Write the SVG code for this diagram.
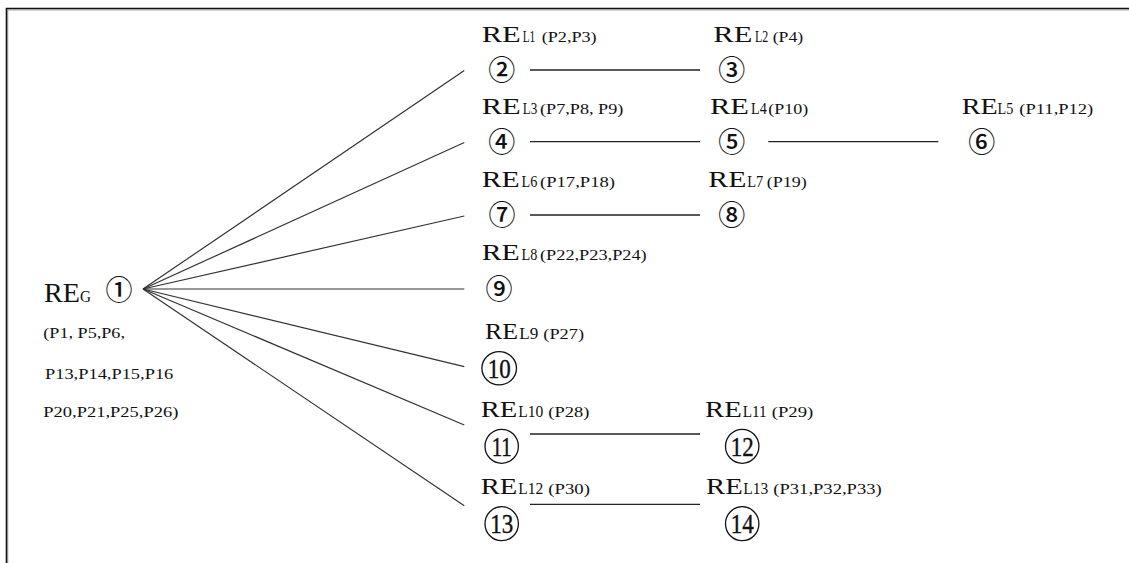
<svg xmlns="http://www.w3.org/2000/svg" width="1129" height="563" viewBox="0 0 1129 563">
  <style>
    .frame { fill: none; stroke: #111; stroke-width: 1.6; }
    .frame2 { fill: none; stroke: #aaa; stroke-width: 1; }
    .edge { fill: none; stroke: #333; stroke-width: 1.2; }
    .link { fill: none; stroke: #222; stroke-width: 1.3; }
    .lbl { font-family: "Liberation Serif", "Times New Roman", serif; fill: #111; }
    .re { font-size: 23px; }
    .sub { font-size: 16px; }
    .ps { font-size: 14px; }
    .reg { font-size: 27px; }
    .regs { font-size: 17px; }
    .plist { font-size: 15px; }
    .cd { font-family: "Noto Sans CJK SC", "Noto Sans CJK JP", sans-serif; font-size: 27px; font-weight: 500; fill: #111; text-anchor: middle; }
    .ring { fill: none; stroke: #111; stroke-width: 1.3; }
    .cnum { font-family: "Liberation Serif", "Times New Roman", serif; font-size: 27px; fill: #111; stroke: #111; stroke-width: 0.4; text-anchor: middle; }
  </style>

  <!-- page frame: top and left rules -->
  <path class="frame2" d="M7.8,563 V10 H1129"/>
  <path class="frame" d="M6.5,563 V8.5 H1129"/>

  <!-- connectors -->
  <g id="connectors">
    <line class="edge" x1="143" y1="289" x2="464.3" y2="70.5"/>
    <line class="edge" x1="143" y1="289" x2="464.3" y2="142.5"/>
    <line class="edge" x1="143" y1="289" x2="464.3" y2="216"/>
    <line class="edge" x1="143" y1="289" x2="464.3" y2="289"/>
    <line class="edge" x1="143" y1="289" x2="464.3" y2="366.7"/>
    <line class="edge" x1="143" y1="289" x2="464.3" y2="425"/>
    <line class="edge" x1="143" y1="289" x2="464.3" y2="505.7"/>
    <line class="link" x1="530" y1="70" x2="700" y2="70"/>
    <line class="link" x1="530" y1="141.7" x2="700" y2="141.7"/>
    <line class="link" x1="768.3" y1="141.7" x2="938.3" y2="141.7"/>
    <line class="link" x1="530" y1="215" x2="700" y2="215"/>
    <line class="link" x1="530" y1="434" x2="700" y2="434"/>
    <line class="link" x1="530" y1="504.3" x2="700" y2="504.3"/>
  </g>

  <!-- global entity -->
  <g id="n1">
    <text class="lbl" y="301.7"><tspan class="reg" x="44" textLength="36" lengthAdjust="spacingAndGlyphs">RE</tspan><tspan class="regs" x="80" textLength="11" lengthAdjust="spacingAndGlyphs">G</tspan></text>
    <text class="cd" x="119" y="299.5">①</text>
    <text class="lbl plist" x="43.3" y="338.3" textLength="81.7" lengthAdjust="spacingAndGlyphs">(P1, P5,P6,</text>
    <text class="lbl plist" x="45" y="379.3" textLength="128.3" lengthAdjust="spacingAndGlyphs">P13,P14,P15,P16</text>
    <text class="lbl plist" x="43.3" y="416.7" textLength="135" lengthAdjust="spacingAndGlyphs">P20,P21,P25,P26)</text>
  </g>

  <g id="n2">
    <text class="lbl" y="41.7"><tspan class="re" x="481.7" textLength="39" lengthAdjust="spacingAndGlyphs">RE</tspan><tspan class="sub" x="522.7" textLength="12.5" lengthAdjust="spacingAndGlyphs">L1</tspan><tspan class="ps" x="541.7" textLength="55" lengthAdjust="spacingAndGlyphs">(P2,P3)</tspan></text>
    <text class="cd" x="501.7" y="80">②</text>
  </g>

  <g id="n3">
    <text class="lbl" y="41.7"><tspan class="re" x="713.3" textLength="39" lengthAdjust="spacingAndGlyphs">RE</tspan><tspan class="sub" x="755" textLength="13.3" lengthAdjust="spacingAndGlyphs">L2</tspan><tspan class="ps" x="772.7" textLength="30.6" lengthAdjust="spacingAndGlyphs">(P4)</tspan></text>
    <text class="cd" x="731.7" y="80">③</text>
  </g>

  <g id="n4">
    <text class="lbl" y="114.3"><tspan class="re" x="481.7" textLength="39" lengthAdjust="spacingAndGlyphs">RE</tspan><tspan class="sub" x="522.7" textLength="14.6" lengthAdjust="spacingAndGlyphs">L3</tspan><tspan class="ps" x="540" textLength="83.3" lengthAdjust="spacingAndGlyphs">(P7,P8, P9)</tspan></text>
    <text class="cd" x="501.7" y="151.7">④</text>
  </g>

  <g id="n5">
    <text class="lbl" y="114.3"><tspan class="re" x="710" textLength="39" lengthAdjust="spacingAndGlyphs">RE</tspan><tspan class="sub" x="751" textLength="15.7" lengthAdjust="spacingAndGlyphs">L4</tspan><tspan class="ps" x="768.3" textLength="40" lengthAdjust="spacingAndGlyphs">(P10)</tspan></text>
    <text class="cd" x="731.7" y="151.7">⑤</text>
  </g>

  <g id="n6">
    <text class="lbl" y="114.3"><tspan class="re" x="961.7" textLength="36" lengthAdjust="spacingAndGlyphs">RE</tspan><tspan class="sub" x="997.5" textLength="15.8" lengthAdjust="spacingAndGlyphs">L5</tspan><tspan class="ps" x="1019.3" textLength="74" lengthAdjust="spacingAndGlyphs">(P11,P12)</tspan></text>
    <text class="cd" x="981.7" y="151.7">⑥</text>
  </g>

  <g id="n7">
    <text class="lbl" y="187.3"><tspan class="re" x="481.7" textLength="38" lengthAdjust="spacingAndGlyphs">RE</tspan><tspan class="sub" x="521.5" textLength="15.8" lengthAdjust="spacingAndGlyphs">L6</tspan><tspan class="ps" x="540" textLength="75" lengthAdjust="spacingAndGlyphs">(P17,P18)</tspan></text>
    <text class="cd" x="502" y="225">⑦</text>
  </g>

  <g id="n8">
    <text class="lbl" y="187.3"><tspan class="re" x="708.3" textLength="38" lengthAdjust="spacingAndGlyphs">RE</tspan><tspan class="sub" x="747.3" textLength="16" lengthAdjust="spacingAndGlyphs">L7</tspan><tspan class="ps" x="766.7" textLength="40" lengthAdjust="spacingAndGlyphs">(P19)</tspan></text>
    <text class="cd" x="731.7" y="225">⑧</text>
  </g>

  <g id="n9">
    <text class="lbl" y="260"><tspan class="re" x="481.7" textLength="38" lengthAdjust="spacingAndGlyphs">RE</tspan><tspan class="sub" x="521.5" textLength="15.8" lengthAdjust="spacingAndGlyphs">L8</tspan><tspan class="ps" x="540" textLength="106.7" lengthAdjust="spacingAndGlyphs">(P22,P23,P24)</tspan></text>
    <text class="cd" x="499" y="299">⑨</text>
  </g>

  <g id="n10">
    <text class="lbl" y="339.3"><tspan class="re" x="485" textLength="33" lengthAdjust="spacingAndGlyphs">RE</tspan><tspan class="sub" x="519.3" textLength="19" lengthAdjust="spacingAndGlyphs">L9</tspan><tspan class="ps" x="543.3" textLength="40.7" lengthAdjust="spacingAndGlyphs">(P27)</tspan></text>
    <ellipse class="ring" cx="499.2" cy="368.3" rx="17.3" ry="16.6"/>
    <text class="cnum" x="499.2" y="378" textLength="23" lengthAdjust="spacingAndGlyphs">10</text>
  </g>

  <g id="n11">
    <text class="lbl" y="417.3"><tspan class="re" x="480.7" textLength="36.6" lengthAdjust="spacingAndGlyphs">RE</tspan><tspan class="sub" x="518.3" textLength="25" lengthAdjust="spacingAndGlyphs">L10</tspan><tspan class="ps" x="548.3" textLength="41" lengthAdjust="spacingAndGlyphs">(P28)</tspan></text>
    <ellipse class="ring" cx="501.7" cy="446.3" rx="16.7" ry="17"/>
    <text class="cnum" x="501.7" y="456" textLength="20" lengthAdjust="spacingAndGlyphs">11</text>
  </g>

  <g id="n12">
    <text class="lbl" y="417.3"><tspan class="re" x="705" textLength="36.7" lengthAdjust="spacingAndGlyphs">RE</tspan><tspan class="sub" x="742.7" textLength="24" lengthAdjust="spacingAndGlyphs">L11</tspan><tspan class="ps" x="771.7" textLength="41.6" lengthAdjust="spacingAndGlyphs">(P29)</tspan></text>
    <ellipse class="ring" cx="742.2" cy="446.3" rx="16.7" ry="17"/>
    <text class="cnum" x="742.2" y="456" textLength="23" lengthAdjust="spacingAndGlyphs">12</text>
  </g>

  <g id="n13">
    <text class="lbl" y="494"><tspan class="re" x="480.7" textLength="36.6" lengthAdjust="spacingAndGlyphs">RE</tspan><tspan class="sub" x="518.3" textLength="25" lengthAdjust="spacingAndGlyphs">L12</tspan><tspan class="ps" x="548.3" textLength="41.7" lengthAdjust="spacingAndGlyphs">(P30)</tspan></text>
    <ellipse class="ring" cx="501.7" cy="523.7" rx="16.7" ry="17"/>
    <text class="cnum" x="501.7" y="533.4" textLength="23" lengthAdjust="spacingAndGlyphs">13</text>
  </g>

  <g id="n14">
    <text class="lbl" y="494"><tspan class="re" x="706" textLength="36.7" lengthAdjust="spacingAndGlyphs">RE</tspan><tspan class="sub" x="743.3" textLength="25" lengthAdjust="spacingAndGlyphs">L13</tspan><tspan class="ps" x="773.3" textLength="108.4" lengthAdjust="spacingAndGlyphs">(P31,P32,P33)</tspan></text>
    <ellipse class="ring" cx="742.2" cy="523.7" rx="16.7" ry="17"/>
    <text class="cnum" x="742.2" y="533.4" textLength="23" lengthAdjust="spacingAndGlyphs">14</text>
  </g>
</svg>
